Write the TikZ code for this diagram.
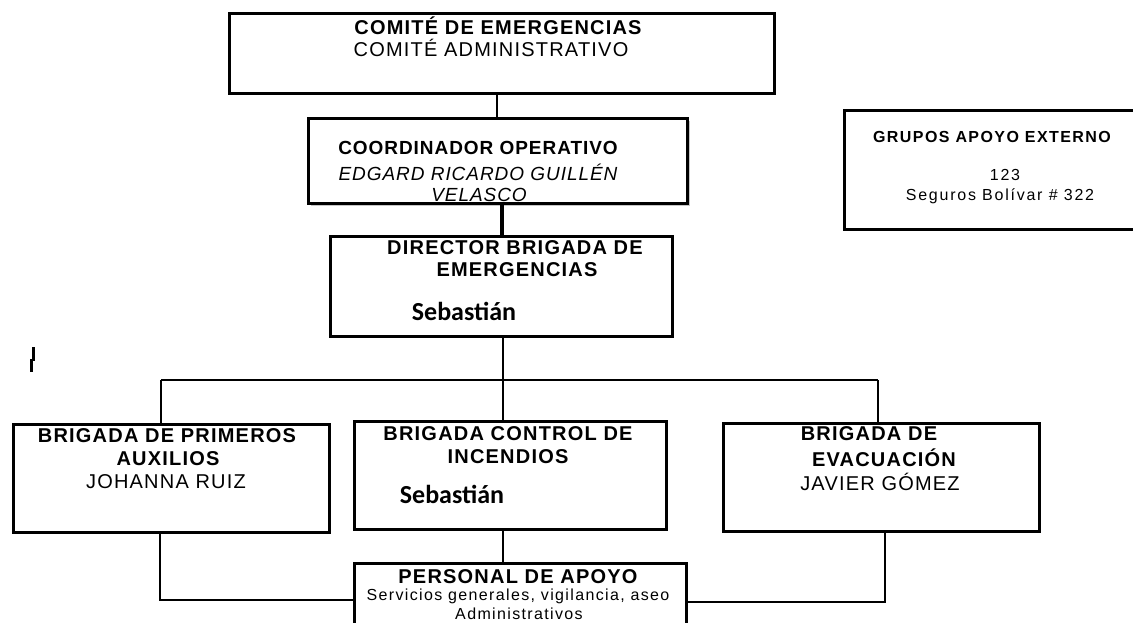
\documentclass[tikz,border=0pt]{standalone}
\usepackage{fontspec}
\setmainfont{Liberation Sans}
\newfontfamily\calib{Carlito}
\begin{document}
\begin{tikzpicture}[x=1pt,y=-1pt,
  box/.style={draw=black,line width=2.6pt,fill=white,inner sep=0pt,anchor=north west},
  conn/.style={draw=black,line width=2.6pt},
  hd/.style={inner sep=0pt,font=\bfseries\fontsize{20}{22}\selectfont\addfontfeatures{LetterSpace=6}},
  nm/.style={inner sep=0pt,font=\fontsize{20}{22}\selectfont\addfontfeatures{LetterSpace=6}},
  co/.style={inner sep=0pt,font=\bfseries\fontsize{19}{21}\selectfont\addfontfeatures{LetterSpace=5}},
  it/.style={inner sep=0pt,font=\itshape\fontsize{19}{21}\selectfont\addfontfeatures{LetterSpace=5}},
  gb/.style={inner sep=0pt,font=\bfseries\fontsize{16}{18}\selectfont\addfontfeatures{LetterSpace=9}},
  gn/.style={inner sep=0pt,font=\fontsize{16}{18}\selectfont\addfontfeatures{LetterSpace=11}},
  sm/.style={inner sep=0pt,font=\fontsize{16}{18}\selectfont\addfontfeatures{LetterSpace=8.5}},
  seb/.style={inner sep=0pt,font=\calib\bfseries\fontsize{26}{28}\selectfont}]
\useasboundingbox (0,0) rectangle (1133,623);
% boxes
\node[box,minimum width=545pt,minimum height=80pt] (comite) at (228,12) {};
\fill[gray!45] (311,121) rectangle (690,206);
\node[box,minimum width=379pt,minimum height=85pt] (coord) at (307,117) {};
\node[box,minimum width=342pt,minimum height=100pt] (dir) at (329,235) {};
\node[box,minimum width=298pt,minimum height=119pt] (grupos) at (843,109) {};
\node[box,minimum width=316pt,minimum height=108pt] (brig1) at (12,423) {};
\node[box,minimum width=312pt,minimum height=108pt] (brig2) at (353,420) {};
\node[box,minimum width=316pt,minimum height=108pt] (brig3) at (722,422) {};
\node[box,minimum width=332pt,minimum height=80pt] (pers) at (353,562) {};
% connectors
\coordinate (busL) at (161,380);
\coordinate (busM) at (503,380);
\coordinate (busR) at (878,380);
\coordinate (lowL) at (160,600);
\coordinate (lowR) at (885,602);
\draw[conn] (comite.south -| 497,0) -- (coord.north -| 497,0);
\draw[conn,line width=3.4pt] (coord.south -| 502,0) -- (dir.north -| 502,0);
\draw[conn] (dir.south -| busM) -- (busM);
\draw[conn] (busL) -- (busR);
\draw[conn] (busL) -- (brig1.north -| busL);
\draw[conn] (busM) -- (brig2.north -| busM);
\draw[conn] (busR) -- (brig3.north -| busR);
\draw[conn] (brig1.south -| lowL) -- (lowL) -- (pers.west |- lowL);
\draw[conn] (brig2.south -| busM) -- (pers.north -| busM);
\draw[conn] (brig3.south -| lowR) -- (lowR) -- (pers.east |- lowR);
% texts
\node[hd] (t1) at (498,26) {COMITÉ DE EMERGENCIAS};
\node[nm] (t2) at (491,48) {COMITÉ ADMINISTRATIVO};
\node[co] (t3) at (478,148) {COORDINADOR OPERATIVO};
\node[it] (t4) at (478,172) {EDGARD RICARDO GUILLÉN};
\node[it] (t5) at (479,195) {VELASCO};
\node[hd] (t6) at (515,248) {DIRECTOR BRIGADA DE};
\node[hd] (t7) at (517,270) {EMERGENCIAS};
\node[seb] (t8) at (464,311) {Sebastián};
\node[gb] (g1) at (992,137) {GRUPOS APOYO EXTERNO};
\node[gn] (g2) at (1005,175) {123};
\node[gn] (g3) at (1000,196) {Seguros Bolívar \# 322};
\node[hd] (b1) at (167,436) {BRIGADA DE PRIMEROS};
\node[hd] (b2) at (168,459) {AUXILIOS};
\node[nm] (b3) at (166,482) {JOHANNA RUIZ};
\node[hd] (c1) at (508,434) {BRIGADA CONTROL DE};
\node[hd] (c2) at (508,457) {INCENDIOS};
\node[seb] (c3) at (452,494) {Sebastián};
\node[hd] (e1) at (869,434) {BRIGADA DE};
\node[hd] (e2) at (884,458) {EVACUACIÓN};
\node[nm] (e3) at (880,482) {JAVIER GÓMEZ};
\node[hd] (p1) at (518,577) {PERSONAL DE APOYO};
\node[sm] (p2) at (518,596) {Servicios generales, vigilancia, aseo};
\node[sm] (p3) at (519,614) {Administrativos};
% stray mark
\draw[line width=3pt] (33,347) -- (33,361);
\draw[line width=3pt] (31,359) -- (31,372);
\end{tikzpicture}
\end{document}
